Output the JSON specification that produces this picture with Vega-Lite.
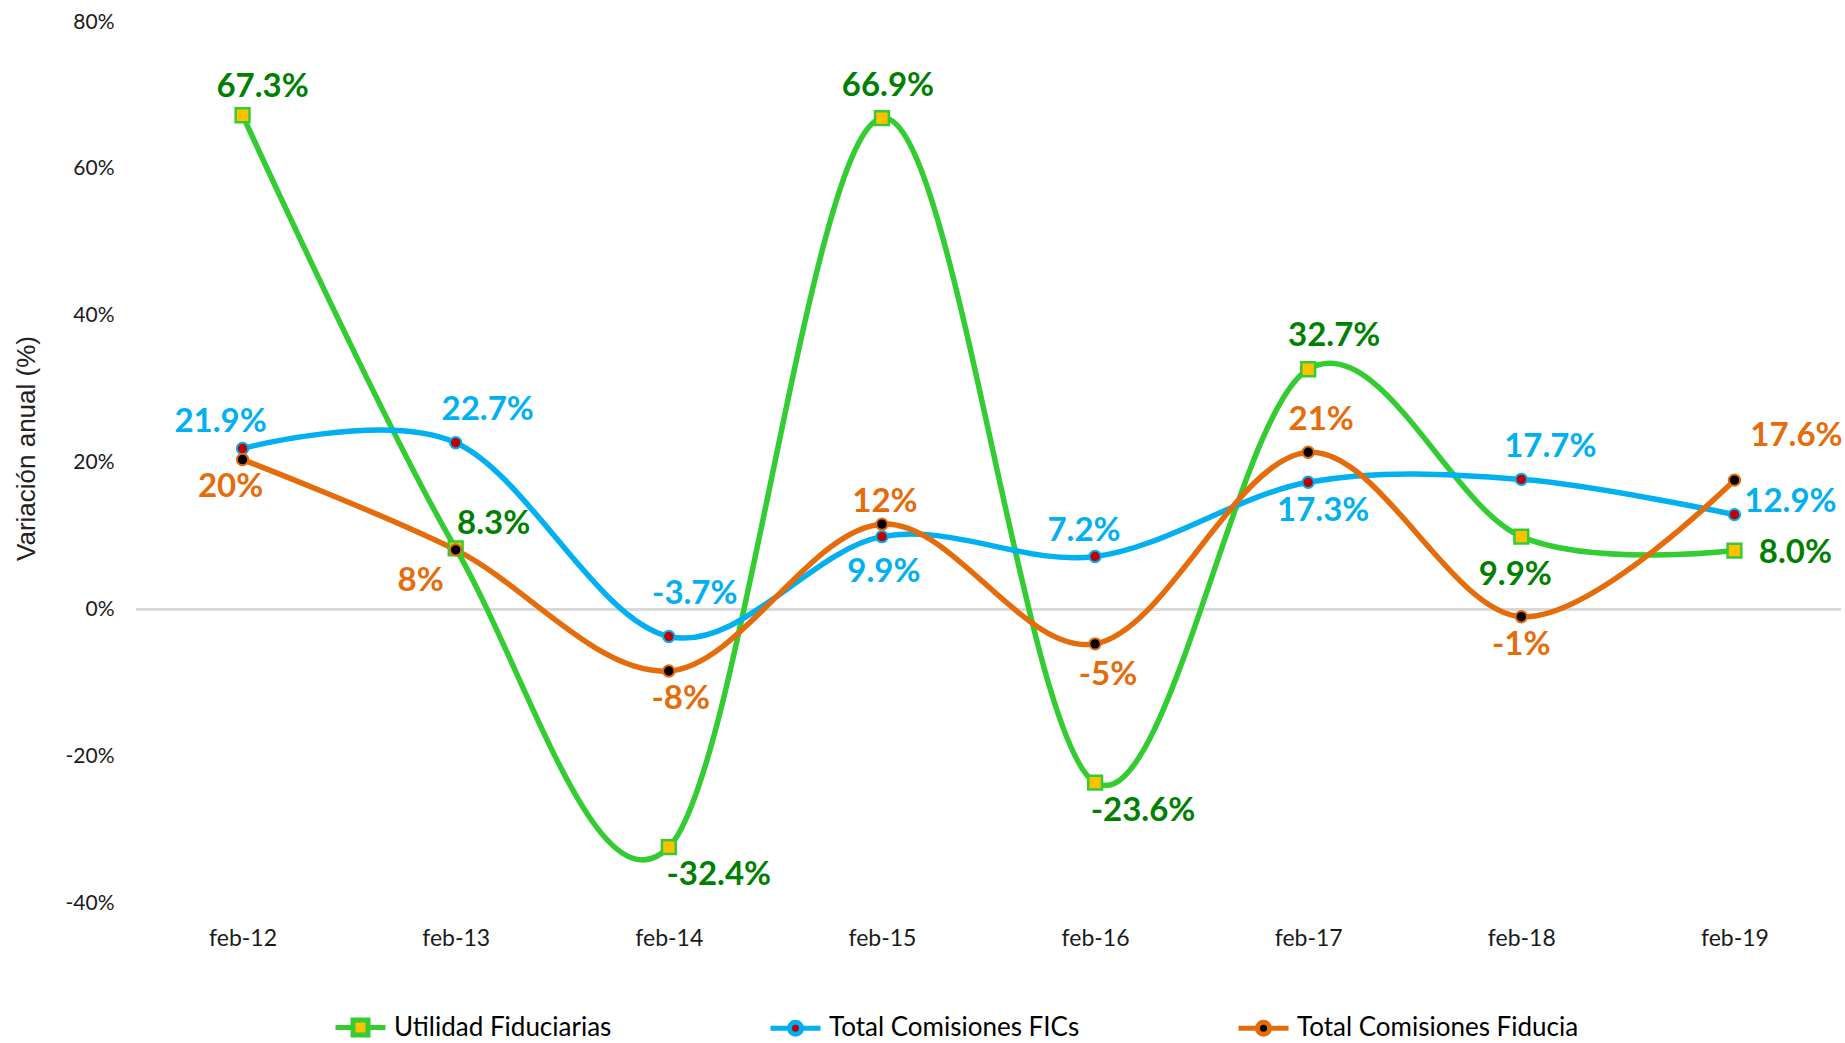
{
  "$schema": "https://vega.github.io/schema/vega-lite/v6.json",
  "width": 1705,
  "height": 881,
  "autosize": {"type": "none"},
  "padding": {"left": 136, "top": 22, "right": 4, "bottom": 140},
  "background": "white",
  "config": {
    "view": {"stroke": null},
    "locale": {"number": {"decimal": ".", "thousands": ",", "grouping": [3], "currency": ["$", ""], "minus": "-"}},
    "axis": {"labelFont": "Lato", "labelFontSize": 21, "labelColor": "#1a1a1a", "ticks": false, "domain": false, "grid": false},
    "legend": {
      "orient": "none", "legendX": 197, "legendY": 978, "direction": "horizontal",
      "symbolSize": 2500, "symbolStrokeWidth": 5, "labelFont": "Lato", "labelFontSize": 26, "labelLimit": 500,
      "labelColor": "#000000", "labelOffset": 6, "columnPadding": 148, "padding": 0
    }
  },
  "data": {
    "values": [
      {"mes": "feb-12", "serie": "Utilidad Fiduciarias", "valor": 0.673},
      {"mes": "feb-13", "serie": "Utilidad Fiduciarias", "valor": 0.083},
      {"mes": "feb-14", "serie": "Utilidad Fiduciarias", "valor": -0.324},
      {"mes": "feb-15", "serie": "Utilidad Fiduciarias", "valor": 0.669},
      {"mes": "feb-16", "serie": "Utilidad Fiduciarias", "valor": -0.236},
      {"mes": "feb-17", "serie": "Utilidad Fiduciarias", "valor": 0.327},
      {"mes": "feb-18", "serie": "Utilidad Fiduciarias", "valor": 0.099},
      {"mes": "feb-19", "serie": "Utilidad Fiduciarias", "valor": 0.080},
      {"mes": "feb-12", "serie": "Total Comisiones FICs", "valor": 0.219},
      {"mes": "feb-13", "serie": "Total Comisiones FICs", "valor": 0.227},
      {"mes": "feb-14", "serie": "Total Comisiones FICs", "valor": -0.037},
      {"mes": "feb-15", "serie": "Total Comisiones FICs", "valor": 0.099},
      {"mes": "feb-16", "serie": "Total Comisiones FICs", "valor": 0.072},
      {"mes": "feb-17", "serie": "Total Comisiones FICs", "valor": 0.173},
      {"mes": "feb-18", "serie": "Total Comisiones FICs", "valor": 0.177},
      {"mes": "feb-19", "serie": "Total Comisiones FICs", "valor": 0.129},
      {"mes": "feb-12", "serie": "Total Comisiones Fiducia", "valor": 0.204},
      {"mes": "feb-13", "serie": "Total Comisiones Fiducia", "valor": 0.081},
      {"mes": "feb-14", "serie": "Total Comisiones Fiducia", "valor": -0.084},
      {"mes": "feb-15", "serie": "Total Comisiones Fiducia", "valor": 0.116},
      {"mes": "feb-16", "serie": "Total Comisiones Fiducia", "valor": -0.047},
      {"mes": "feb-17", "serie": "Total Comisiones Fiducia", "valor": 0.214},
      {"mes": "feb-18", "serie": "Total Comisiones Fiducia", "valor": -0.010},
      {"mes": "feb-19", "serie": "Total Comisiones Fiducia", "valor": 0.176}
    ]
  },
  "encoding": {
    "x": {
      "field": "mes", "type": "ordinal", "title": null,
      "scale": {"type": "point", "padding": 0.5, "domain": ["feb-12", "feb-13", "feb-14", "feb-15", "feb-16", "feb-17", "feb-18", "feb-19"]},
      "axis": {"labelAngle": 0, "labelPadding": 24, "labelBaseline": "top", "labelFontSize": 23}
    },
    "y": {
      "field": "valor", "type": "quantitative",
      "scale": {"domain": [-0.4, 0.8], "nice": false, "zero": false},
      "axis": {
        "format": ".0%", "values": [-0.4, -0.2, 0, 0.2, 0.4, 0.6, 0.8], "labelPadding": 22,
        "title": "Variación anual (%)", "titleFont": "Liberation Sans", "titleFontSize": 26, "titleFontWeight": "normal",
        "titleColor": "#222222", "titleAngle": -90, "titleX": -110, "titleY": 426, "titleAlign": "center", "titleBaseline": "middle"
      }
    }
  },
  "layer": [
    {
      "mark": {"type": "rule", "color": "#D9D9D9", "strokeWidth": 2},
      "encoding": {"x": null, "y": {"datum": 0}}
    },
    {
      "transform": [{"filter": "false"}],
      "mark": {"type": "point", "filled": true, "opacity": 1},
      "encoding": {
        "x": null, "y": null,
        "stroke": {
          "field": "serie", "type": "nominal", "legend": {"title": null},
          "scale": {"domain": ["Utilidad Fiduciarias", "Total Comisiones FICs", "Total Comisiones Fiducia"], "range": ["#33CC33", "#00B0F0", "#E46C0A"]}
        },
        "fill": {
          "field": "serie", "type": "nominal", "legend": {"title": null},
          "scale": {"domain": ["Utilidad Fiduciarias", "Total Comisiones FICs", "Total Comisiones Fiducia"], "range": ["#FFC000", "#C00000", "#000000"]}
        },
        "shape": {
          "field": "serie", "type": "nominal", "legend": {"title": null},
          "scale": {
            "domain": ["Utilidad Fiduciarias", "Total Comisiones FICs", "Total Comisiones Fiducia"],
            "range": [
              "M-1,0H-0.3M0.3,0H1M-0.3,-0.3H0.3V0.3H-0.3Z",
              "M-1,0H-0.24M0.24,0H1M-0.24,0A0.24,0.24,0,1,0,0.24,0A0.24,0.24,0,1,0,-0.24,0Z",
              "M-1,0H-0.24M0.24,0H1M-0.24,0A0.24,0.24,0,1,0,0.24,0A0.24,0.24,0,1,0,-0.24,0Z"
            ]
          }
        }
      }
    },
    {
      "mark": {"type": "line", "interpolate": "cardinal", "strokeWidth": 5.5},
      "encoding": {
        "stroke": {"field": "serie", "type": "nominal", "legend": {"title": null}}
      }
    },
    {
      "transform": [{"filter": "datum.serie === 'Utilidad Fiduciarias'"}],
      "mark": {"type": "point", "shape": "square", "size": 190, "filled": true, "fill": "#FFC000", "stroke": "#33CC33", "strokeWidth": 2.5, "opacity": 1}
    },
    {
      "transform": [{"filter": "datum.serie === 'Total Comisiones FICs'"}],
      "mark": {"type": "point", "shape": "circle", "size": 130, "filled": true, "fill": "#C00000", "stroke": "#00B0F0", "strokeWidth": 2, "opacity": 1}
    },
    {
      "transform": [{"filter": "datum.serie === 'Total Comisiones Fiducia'"}],
      "mark": {"type": "point", "shape": "circle", "size": 130, "filled": true, "fill": "#000000", "stroke": "#E46C0A", "strokeWidth": 2, "opacity": 1}
    },
    {
      "transform": [{"filter": "datum.serie === 'Utilidad Fiduciarias'"}],
      "mark": {
        "type": "text", "font": "Lato", "fontSize": 33, "fontWeight": "bold", "color": "#008000", "align": "center", "baseline": "middle",
        "dx": {"expr": "[20,38,50,6,48,26,-6,61][indexof(['feb-12','feb-13','feb-14','feb-15','feb-16','feb-17','feb-18','feb-19'], datum.mes)]"},
        "dy": {"expr": "[-28,-24,28,-32,28,-33,38,2][indexof(['feb-12','feb-13','feb-14','feb-15','feb-16','feb-17','feb-18','feb-19'], datum.mes)]"}
      },
      "encoding": {"text": {"field": "valor", "type": "quantitative", "format": ".1%"}}
    },
    {
      "transform": [{"filter": "datum.serie === 'Total Comisiones FICs'"}],
      "mark": {
        "type": "text", "font": "Lato", "fontSize": 33, "fontWeight": "bold", "color": "#00B0F0", "align": "center", "baseline": "middle",
        "dx": {"expr": "[-22,32,26,2,-11,15,29,56][indexof(['feb-12','feb-13','feb-14','feb-15','feb-16','feb-17','feb-18','feb-19'], datum.mes)]"},
        "dy": {"expr": "[-27,-33,-42,35,-25,29,-32,-13][indexof(['feb-12','feb-13','feb-14','feb-15','feb-16','feb-17','feb-18','feb-19'], datum.mes)]"}
      },
      "encoding": {"text": {"field": "valor", "type": "quantitative", "format": ".1%"}}
    },
    {
      "transform": [{"filter": "datum.serie === 'Total Comisiones Fiducia'"}],
      "mark": {
        "type": "text", "font": "Lato", "fontSize": 33, "fontWeight": "bold", "color": "#E46C0A", "align": "center", "baseline": "middle",
        "dx": {"expr": "[-12,-35,12,3,13,13,0,62][indexof(['feb-12','feb-13','feb-14','feb-15','feb-16','feb-17','feb-18','feb-19'], datum.mes)]"},
        "dy": {"expr": "[27,31,28,-22,31,-32,28,-44][indexof(['feb-12','feb-13','feb-14','feb-15','feb-16','feb-17','feb-18','feb-19'], datum.mes)]"}
      },
      "encoding": {
        "text": {
          "condition": {"test": "datum.mes === 'feb-19'", "field": "valor", "type": "quantitative", "format": ".1%"},
          "field": "valor", "type": "quantitative", "format": ".0%"
        }
      }
    }
  ]
}
